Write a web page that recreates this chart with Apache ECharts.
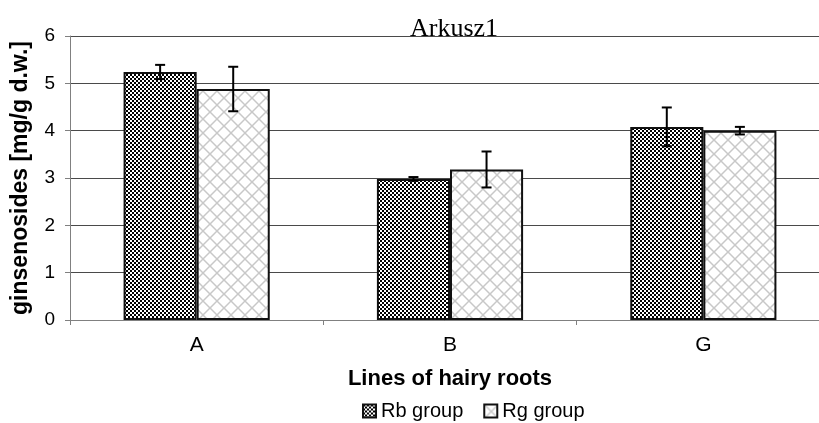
<!DOCTYPE html>
<html><head><meta charset="utf-8">
<script src="https://cdn.jsdelivr.net/npm/echarts@6/dist/echarts.min.js"></script>
<style>html,body{margin:0;padding:0;background:#fff}#c{width:819px;height:423px}</style>
</head><body><div id="c"></div>
<script>
var categories = ['A', 'B', 'G'];
var rbValues = [5.24, 2.98, 4.08];
var rbErrors = [0.15, 0.04, 0.41];
var rgValues = [4.88, 3.18, 4.00];
var rgErrors = [0.47, 0.38, 0.08];
var seriesNames = ['Rb group', 'Rg group'];

function checker() {
  var c = document.createElement('canvas'); c.width = 4; c.height = 4;
  var g = c.getContext('2d');
  g.fillStyle = '#fff'; g.fillRect(0, 0, 4, 4);
  g.fillStyle = '#000'; g.fillRect(0, 0, 2, 2); g.fillRect(2, 2, 2, 2);
  return c;
}
function lattice() {
  var s = 14;
  var c = document.createElement('canvas'); c.width = s; c.height = s;
  var g = c.getContext('2d');
  g.fillStyle = '#fff'; g.fillRect(0, 0, s, s);
  g.strokeStyle = '#c8c8c8'; g.lineWidth = 1.5;
  g.beginPath(); g.moveTo(0, 0); g.lineTo(s, s); g.stroke();
  g.beginPath(); g.moveTo(s, 0); g.lineTo(0, s); g.stroke();
  return c;
}
var pRb = {image: checker(), repeat: 'repeat'};
var pRg = {image: lattice(), repeat: 'repeat'};
var gapFrac = 0.423;

function errSeries(vals, errs, side) {
  return {
    type: 'custom', silent: true, z: 10,
    data: vals.map(function (v, i) { return [i, v - errs[i], v + errs[i]]; }),
    renderItem: function (params, api) {
      var cw = api.size([1, 0])[0];
      var bw = cw * (1 - gapFrac) / 2;
      var lo = api.coord([api.value(0), api.value(1)]);
      var hi = api.coord([api.value(0), api.value(2)]);
      var x = lo[0] + side * bw / 2;
      var hw = 5;
      var st = {stroke: '#000', lineWidth: 2};
      return {type: 'group', children: [
        {type: 'line', shape: {x1: x, y1: lo[1], x2: x, y2: hi[1]}, style: st},
        {type: 'line', shape: {x1: x - hw, y1: lo[1], x2: x + hw, y2: lo[1]}, style: st},
        {type: 'line', shape: {x1: x - hw, y1: hi[1], x2: x + hw, y2: hi[1]}, style: st}
      ]};
    }
  };
}

var chart = echarts.init(document.getElementById('c'), null, {renderer: 'canvas'});
chart.setOption({
  animation: false,
  title: {text: 'Arkusz1', left: 449, textAlign: 'center', top: 11,
    textStyle: {fontFamily: 'Liberation Serif', fontSize: 26, fontWeight: 'normal', color: '#000'}},
  grid: {left: 70, top: 36, width: 760, height: 284, containLabel: false, outerBoundsMode: 'none'},
  legend: {data: [{name: seriesNames[0], icon: 'rect'}, {name: seriesNames[1], icon: 'rect'}],
    bottom: -3, left: 357, itemWidth: 13, itemHeight: 13, itemGap: 20,
    textStyle: {fontFamily: 'Liberation Sans', fontSize: 20, color: '#000'}},
  xAxis: {type: 'category', data: categories,
    name: 'Lines of hairy roots', nameLocation: 'middle', nameGap: 48,
    nameTextStyle: {fontFamily: 'Liberation Sans', fontSize: 22, fontWeight: 'bold', color: '#000'},
    axisLine: {lineStyle: {color: '#808080', width: 1}},
    axisTick: {show: true, length: 5, lineStyle: {color: '#808080'}},
    axisLabel: {fontFamily: 'Liberation Sans', fontSize: 21, color: '#000', margin: 15}},
  yAxis: {type: 'value', min: 0, max: 6, interval: 1,
    name: 'ginsenosides [mg/g d.w.]', nameLocation: 'middle', nameGap: 38,
    nameTextStyle: {fontFamily: 'Liberation Sans', fontSize: 23, fontWeight: 'bold', color: '#000'},
    axisLine: {show: true, lineStyle: {color: '#808080', width: 1}},
    axisTick: {show: true, length: 5, lineStyle: {color: '#808080'}},
    axisLabel: {fontFamily: 'Liberation Sans', fontSize: 19, color: '#000', margin: 15},
    splitLine: {lineStyle: {color: '#4a4a4a', width: 1}}},
  series: [
    {name: seriesNames[0], type: 'bar', data: rbValues, barGap: '0%', barCategoryGap: (gapFrac * 100) + '%',
      itemStyle: {color: pRb, borderColor: '#111', borderWidth: 2}},
    {name: seriesNames[1], type: 'bar', data: rgValues, barGap: '0%', barCategoryGap: (gapFrac * 100) + '%',
      itemStyle: {color: pRg, borderColor: '#111', borderWidth: 2}},
    errSeries(rbValues, rbErrors, -1),
    errSeries(rgValues, rgErrors, 1)
  ]
});
</script></body></html>
